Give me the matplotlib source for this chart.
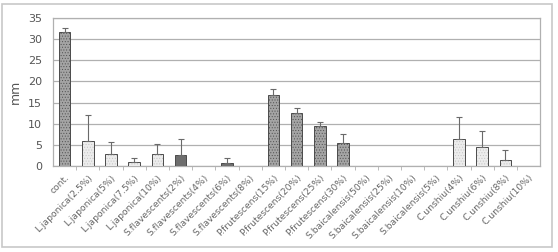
import matplotlib
matplotlib.use("Agg")
import matplotlib.pyplot as plt
from matplotlib.patches import FancyBboxPatch
from matplotlib.colors import to_rgba
import numpy as np

categories = ["cont.", "L.japonica(2.5%)", "L.japonica(5%)", "L.japonica(7.5%)", "L.japonica(10%)",
              "S.flavescents(2%)", "S.flavescents(4%)", "S.flavescents(6%)", "S.flavescents(8%)",
              "P.frutescens(15%)", "P.frutescens(20%)", "P.frutescens(25%)", "P.frutescens(30%)",
              "S.baicalensis(50%)", "S.baicalensis(25%)", "S.baicalensis(10%)", "S.baicalensis(5%)",
              "C.unshiu(4%)", "C.unshiu(6%)", "C.unshiu(8%)", "C.unshiu(10%)"]
values = [31.7, 6.0, 2.9, 0.9, 2.9,
          2.5, 0.0, 0.8, 0.0,
          16.8, 12.5, 9.5, 5.5,
          0.0, 0.0, 0.0, 0.0,
          6.5, 4.6, 1.35, 0.0]
errors = [0.8, 6.0, 2.9, 0.9, 2.4,
          3.8, 0.0, 1.0, 0.0,
          1.4, 1.2, 0.8, 2.1,
          0.0, 0.0, 0.0, 0.0,
          5.0, 3.6, 2.4, 0.0]
groups = ["dark", "light", "light", "light", "light",
          "solid", "solid", "solid", "solid",
          "dark", "dark", "dark", "dark",
          "light", "light", "light", "light",
          "light", "light", "light", "light"]

styles = {
    "dark": dict(facecolor="#a4a4a4", hatch="......", hcolor="#505050"),
    "light": dict(facecolor="#ececec", hatch="......", hcolor="#c4c4c4"),
    "solid": dict(facecolor="#6e6e6e", hatch="", hcolor="#6e6e6e"),
}

plt.rcParams["hatch.linewidth"] = 0.4

fig = plt.figure(figsize=(5.58, 2.52), dpi=100)
frame = FancyBboxPatch((0.004, 0.02), 0.985, 0.965, boxstyle="square,pad=0",
                       transform=fig.transFigure, facecolor="white",
                       edgecolor="#c8c8c8", linewidth=1.2, zorder=-1)
fig.patches.append(frame)

ax = fig.add_axes([0.095, 0.341, 0.873, 0.588])
x = np.arange(len(categories))
for i, (v, e, g) in enumerate(zip(values, errors, groups)):
    st = styles[g]
    bars = ax.bar(x[i], v, width=0.5, facecolor=st["facecolor"], hatch=st["hatch"],
                  edgecolor="#4a4a4a", linewidth=0.7, zorder=3)
    for b in bars:
        b._hatch_color = to_rgba(st["hcolor"])
    if e > 0:
        ax.errorbar(x[i], v, yerr=[[0], [e]], fmt="none", ecolor="#6a6a6a",
                    elinewidth=0.8, capsize=2.5, capthick=0.8, zorder=4)

ax.set_xlim(-0.5, len(categories) - 0.5)
ax.set_ylim(0, 35)
ax.set_yticks(range(0, 36, 5))
ax.yaxis.grid(True, color="#b0b0b0", linewidth=0.9, zorder=0)
ax.set_axisbelow(True)
for s in ax.spines.values():
    s.set_color("#b0b0b0")
    s.set_linewidth(0.9)
ax.tick_params(axis="y", length=0, labelsize=8, labelcolor="#555555", pad=8)
ax.set_xticks(x)
ax.set_xticks(x[:-1] + 0.5, minor=True)
ax.tick_params(axis="x", which="major", length=0, labelsize=6.6,
               labelcolor="#666666", pad=5)
ax.tick_params(axis="x", which="minor", length=3, direction="out", color="#b0b0b0")
ax.set_xticklabels(categories, rotation=45, ha="right", rotation_mode="anchor")
ax.set_ylabel("mm", fontsize=9, color="#555555", labelpad=4)

fig.savefig("out.png", dpi=100)
